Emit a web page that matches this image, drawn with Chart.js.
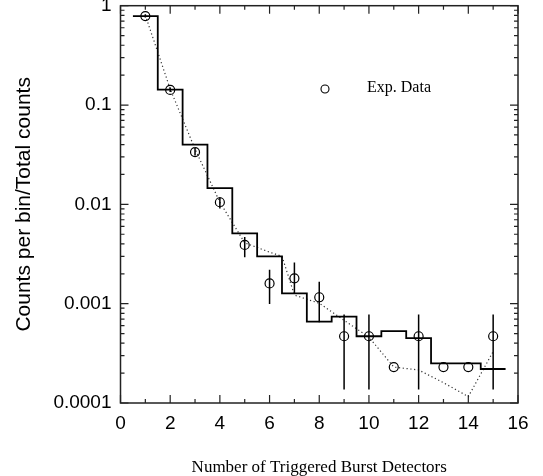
<!DOCTYPE html>
<html>
<head>
<meta charset="utf-8">
<script src="https://cdn.jsdelivr.net/npm/chart.js@4.4.1/dist/chart.umd.min.js"></script>
<style>
  html, body { margin: 0; padding: 0; background: #fff; }
  #chart { display: block; }
</style>
</head>
<body>
<canvas id="chart" width="543" height="476"></canvas>
<script>
// bins: number of triggered detectors
const detectors = [1, 2, 3, 4, 5, 6, 7, 8, 9, 10, 11, 12, 13, 14, 15];
// measured fraction (circles) with error bar ends
const expData = [0.787, 0.142, 0.0336, 0.0105, 0.0039, 0.0016, 0.0018, 0.00116, 0.00047, 0.00047, 0.00023, 0.00047, 0.00023, 0.00023, 0.00047];
const errLow  = [0.76, 0.135, 0.031, 0.0091, 0.00294, 0.00099, 0.00125, 0.00065, 0.000137, 0.000137, null, 0.000137, null, null, 0.000137];
const errHigh = [0.82, 0.15, 0.037, 0.0118, 0.00468, 0.00219, 0.0026, 0.00166, 0.00078, 0.00078, null, 0.00078, null, null, 0.00078];
// simulated histogram (solid steps)
const simHist = [0.785, 0.143, 0.040, 0.0146, 0.0051, 0.0030, 0.00127, 0.00066, 0.00074, 0.00047, 0.00053, 0.00045, 0.00025, 0.00025, 0.00022];
// dotted curve
const curveX = [1, 2, 3, 4, 5, 6, 6.5, 7, 8, 9, 10, 11, 12, 13, 14, 15];
const curveY = [0.8, 0.145, 0.036, 0.0105, 0.0041, 0.0033, 0.0030, 0.00122, 0.00101, 0.00068, 0.00046, 0.00023, 0.000215, 0.00016, 0.000116, 0.00033];
const yTicks = [1, 0.1, 0.01, 0.001, 0.0001];

const histPoints = [];
detectors.forEach((d, i) => {
  histPoints.push({ x: d - 0.5, y: simHist[i] }, { x: d + 0.5, y: simHist[i] });
});

Chart.defaults.font.family = '"Liberation Sans", Arial, sans-serif';
Chart.defaults.color = '#000';

// error bars on the measured points
const errorBars = {
  id: 'errorBars',
  afterDatasetsDraw(chart) {
    const { ctx, scales: { x, y } } = chart;
    ctx.save();
    ctx.strokeStyle = '#000';
    ctx.lineWidth = 1.5;
    ctx.beginPath();
    detectors.forEach((d, i) => {
      if (errLow[i] == null) return;
      const px = x.getPixelForValue(d);
      ctx.moveTo(px, y.getPixelForValue(errHigh[i]));
      ctx.lineTo(px, y.getPixelForValue(errLow[i]));
    });
    ctx.stroke();
    ctx.restore();
  }
};

// box + inward ticks on all four sides
const frameTicks = {
  id: 'frameTicks',
  afterDatasetsDraw(chart) {
    const { ctx, chartArea: a, scales: { x, y } } = chart;
    ctx.save();
    ctx.strokeStyle = '#222';
    ctx.lineWidth = 1.2;
    ctx.beginPath();
    for (let v = 0; v <= 16; v++) {
      const px = x.getPixelForValue(v);
      const len = v % 2 === 0 ? 8 : 4;
      ctx.moveTo(px, a.bottom); ctx.lineTo(px, a.bottom - len);
      ctx.moveTo(px, a.top); ctx.lineTo(px, a.top + len);
    }
    for (let e = -4; e <= 0; e++) {
      for (let m = 1; m <= 9; m++) {
        const v = m * Math.pow(10, e);
        if (v > 1) break;
        const py = y.getPixelForValue(v);
        const len = m === 1 ? 8 : 4;
        ctx.moveTo(a.left, py); ctx.lineTo(a.left + len, py);
        ctx.moveTo(a.right, py); ctx.lineTo(a.right - len, py);
      }
    }
    ctx.stroke();
    ctx.lineWidth = 1.5;
    ctx.strokeRect(a.left, a.top, a.width, a.height);
    ctx.restore();
  }
};

// legend inside the plot
const insideLegend = {
  id: 'insideLegend',
  afterDraw(chart) {
    const { ctx } = chart;
    ctx.save();
    ctx.strokeStyle = '#000';
    ctx.lineWidth = 1.1;
    ctx.beginPath();
    ctx.arc(325, 89, 4, 0, Math.PI * 2);
    ctx.stroke();
    ctx.fillStyle = '#000';
    ctx.font = '16px "Liberation Serif", "Times New Roman", serif';
    ctx.textBaseline = 'middle';
    ctx.fillText(chart.data.datasets[2].label, 367, 88);
    ctx.restore();
  }
};

new Chart(document.getElementById('chart'), {
  type: 'line',
  data: {
    datasets: [
      {
        label: 'Simulation',
        data: histPoints,
        borderColor: '#000',
        borderWidth: 1.8,
        pointRadius: 0,
        tension: 0
      },
      {
        label: 'Model',
        data: curveX.map((v, i) => ({ x: v, y: curveY[i] })),
        borderColor: '#333',
        borderWidth: 1.2,
        borderDash: [1.2, 2.6],
        pointRadius: 0,
        tension: 0
      },
      {
        label: 'Exp. Data',
        data: detectors.map((d, i) => ({ x: d, y: expData[i] })),
        showLine: false,
        pointStyle: 'circle',
        pointRadius: 4.5,
        pointBorderWidth: 1.2,
        pointBorderColor: '#000',
        pointBackgroundColor: 'rgba(0,0,0,0)'
      }
    ]
  },
  options: {
    responsive: false,
    animation: false,
    layout: { padding: { top: 5, right: 25, left: 0, bottom: 0 } },
    plugins: {
      legend: { display: false },
      tooltip: { enabled: false }
    },
    scales: {
      x: {
        type: 'linear',
        min: 0,
        max: 16,
        grid: { display: false, drawTicks: false },
        border: { display: false },
        ticks: { stepSize: 2, font: { size: 19 }, padding: 9, maxRotation: 0 },
        title: {
          display: true,
          text: 'Number of Triggered Burst Detectors',
          font: { family: '"Liberation Serif", "Times New Roman", serif', size: 17, lineHeight: 1 },
          padding: { top: 0, bottom: 0 }
        },
        afterFit: s => { s.height = 73; }
      },
      y: {
        type: 'logarithmic',
        min: 0.0001,
        max: 1,
        grid: { display: false, drawTicks: false },
        border: { display: false },
        afterBuildTicks: s => { s.ticks = yTicks.map(v => ({ value: v })); },
        ticks: { font: { size: 19 }, padding: 9, callback: v => String(v) },
        title: {
          display: true,
          text: 'Counts per bin/Total counts',
          font: { size: 21 },
          padding: { top: 12, bottom: 0 }
        },
        afterFit: s => { s.width = 120.5; s.paddingTop = 0; s.paddingBottom = 0; }
      }
    }
  },
  plugins: [errorBars, frameTicks, insideLegend]
});
</script>
</body>
</html>
